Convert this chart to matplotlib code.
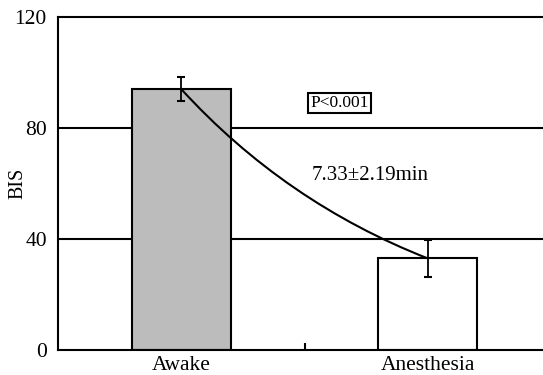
import matplotlib.pyplot as plt

plt.rcParams['font.family'] = ['Liberation Serif', 'DejaVu Serif']

groups = ['Awake', 'Anesthesia']
bis_mean = [94, 33]
bis_sd = [4.2, 6.8]
bar_colors = ['#bcbcbc', 'white']
time_label = '7.33±2.19min'
p_label = 'P<0.001'

fig = plt.figure(figsize=(5.43, 3.75), dpi=100)
ax = fig.add_axes([0.1068, 0.0667, 0.908, 0.888])

x = list(range(len(groups)))
for yv in [40, 80]:
    ax.axhline(yv, color='black', lw=1.5, zorder=1)
ax.bar(x, bis_mean, width=0.4, color=bar_colors, edgecolor='black', linewidth=1.5, zorder=2)
ax.errorbar(x, bis_mean, yerr=bis_sd, fmt='none', ecolor='black', elinewidth=1.3,
            capsize=3, capthick=1.5, zorder=3)

# curved connector from awake to anesthesia
ax.annotate('', xy=(x[1], bis_mean[1]), xytext=(x[0], bis_mean[0]),
            arrowprops=dict(arrowstyle='-', color='black', lw=1.5,
                            connectionstyle='arc3,rad=0.116', shrinkA=0, shrinkB=0),
            zorder=4)
ax.text(0.53, 63, time_label, fontsize=15, ha='left', va='center')
ax.text(0.642, 89, p_label, fontsize=12.5, ha='center', va='center',
        bbox=dict(boxstyle='square,pad=0.12', fc='white', ec='black', lw=1.5))

ax.set_xlim(-0.5, 1.5)
ax.set_ylim(0, 120)
ax.set_yticks([0, 40, 80, 120])
ax.set_xticks(x)
ax.set_xticklabels(groups)
ax.set_xticks([0.5], minor=True)
ax.tick_params(axis='y', length=0, labelsize=15.5, pad=8)
ax.tick_params(axis='x', which='major', length=0, labelsize=15.5, pad=4)
ax.tick_params(axis='x', which='minor', direction='in', length=5, width=1.5)
ax.set_ylabel('BIS', fontsize=14.5)
ax.yaxis.set_label_coords(-0.062, 0.5)
for s in ['left', 'bottom', 'top']:
    ax.spines[s].set_linewidth(1.5)
ax.spines['right'].set_visible(False)

fig.savefig('out.png', dpi=100)
